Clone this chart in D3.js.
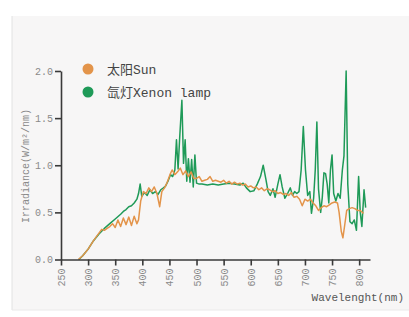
<!DOCTYPE html>
<html>
<head>
<meta charset="utf-8">
<script src="https://cdn.jsdelivr.net/npm/d3@7"></script>
<style>
  body { margin: 0; background: #fff; }
  svg { display: block; }
</style>
</head>
<body>
<div id="chart-area"></div>
<script>
// data (wavelength nm / irradiance W/m2/nm)
let sunWl = [282, 290, 300, 310, 320, 325, 330, 335, 340, 345, 350, 355, 360, 365, 370, 375, 380, 385, 390, 393,
    397, 402, 407, 412, 417, 422, 427, 432, 436, 441, 446, 451, 455, 460, 465, 470, 475, 480, 485, 490,
    495, 500, 505, 510, 515, 520, 525, 530, 535, 540, 545, 550, 555, 560, 565, 570, 575, 580, 585, 590,
    595, 600, 605, 610, 615, 620, 625, 630, 635, 640, 645, 650, 655, 660, 665, 670, 675, 680, 685, 690,
    695, 700, 705, 710, 715, 720, 725, 730, 735, 740, 745, 750, 755, 760, 763, 767, 770, 773, 777, 782,
    787, 792, 797, 802, 808]
let sunVal = [0, 0.04, 0.11, 0.2, 0.28, 0.32, 0.31, 0.33, 0.35, 0.38, 0.34, 0.42, 0.35, 0.44, 0.37, 0.45, 0.36, 0.46, 0.38, 0.42,
    0.62, 0.72, 0.70, 0.76, 0.72, 0.77, 0.70, 0.56, 0.72, 0.76, 0.82, 0.90, 0.95, 0.90, 0.93, 0.97, 0.90, 0.94, 0.88, 0.93,
    0.86, 0.86, 0.88, 0.83, 0.84, 0.85, 0.88, 0.83, 0.84, 0.83, 0.82, 0.84, 0.81, 0.83, 0.80, 0.82, 0.80, 0.81, 0.79, 0.80,
    0.77, 0.78, 0.76, 0.77, 0.74, 0.76, 0.73, 0.75, 0.74, 0.72, 0.73, 0.70, 0.71, 0.69, 0.70, 0.68, 0.71, 0.66, 0.67, 0.64,
    0.57, 0.64, 0.62, 0.64, 0.60, 0.57, 0.52, 0.55, 0.57, 0.56, 0.58, 0.60, 0.61, 0.60, 0.50, 0.30, 0.23, 0.35, 0.52, 0.54,
    0.55, 0.54, 0.52, 0.52, 0.49]

let xenonWl = [283, 290, 300, 310, 320, 330, 340, 350, 360, 365, 370, 375, 380, 385, 390, 393, 396, 399, 404, 409,
    414, 419, 424, 429, 434, 439, 443, 448, 452, 456, 460, 463, 466, 469, 473, 476, 479, 482, 485, 488,
    491, 494, 497, 500, 505, 510, 520, 530, 540, 550, 560, 570, 580, 586, 592, 599, 606, 612, 618, 623,
    628, 632, 636, 641, 645, 650, 654, 658, 663, 668, 673, 677, 681, 685, 689, 693, 697, 701, 705, 709,
    712, 716, 719, 722, 725, 729, 732, 735, 738, 741, 744, 747, 750, 753, 757, 761, 765, 769, 772, 776,
    779, 783, 787, 791, 795, 799, 802, 805, 809, 812]
let xenonVal = [0, 0.04, 0.11, 0.2, 0.27, 0.33, 0.38, 0.43, 0.48, 0.51, 0.53, 0.56, 0.57, 0.60, 0.64, 0.70, 0.80, 0.67, 0.71, 0.68,
    0.74, 0.70, 0.72, 0.69, 0.74, 0.76, 0.78, 0.84, 0.90, 0.88, 0.95, 1.27, 0.96, 1.30, 1.69, 1.02, 1.27, 0.83, 1.07, 0.82,
    1.06, 0.77, 1.11, 0.81, 0.80, 0.80, 0.79, 0.80, 0.79, 0.80, 0.81, 0.80, 0.79, 0.81, 0.76, 0.72, 0.73, 0.80, 0.88, 1.00,
    0.85, 0.72, 0.68, 0.75, 0.66, 0.80, 0.90, 0.77, 0.65, 0.70, 0.76, 0.68, 0.72, 0.70, 0.72, 0.95, 1.41, 0.95, 0.68, 0.72,
    0.49, 0.65, 0.95, 1.46, 0.75, 0.50, 0.66, 0.92, 0.91, 0.80, 0.60, 0.95, 1.11, 0.70, 0.62, 0.70, 0.65, 0.95, 1.10, 2.00,
    0.80, 0.40, 0.38, 0.42, 0.31, 0.88, 0.50, 0.35, 0.74, 0.55]

let xTicks = [250, 300, 350, 400, 450, 500, 550, 600, 650, 700, 750, 800]
let yTicks = [0, 0.5, 1.0, 1.5, 2.0]
let legendNames = ["太阳Sun", "氙灯Xenon lamp"]
let colors = ["#e3944a", "#1f9a58"]

let W = 409, H = 317
let MARGIN = {LEFT: 61, TOP: 71, RIGHT: 39, BOTTOM: 58}
let monoFont = "'Liberation Mono', 'DejaVu Sans Mono', monospace"

let svg = d3.select("#chart-area").append("svg")
    .attr("width", W)
    .attr("height", H)

// grey panel behind the chart
svg.append("rect")
    .attr("x", 12).attr("y", 16)
    .attr("width", W - 12).attr("height", 294)
    .attr("fill", "#f7f6f6")
svg.append("line")
    .attr("x1", 12).attr("x2", 12).attr("y1", 16).attr("y2", 310)
    .attr("stroke", "#e2e2e2").attr("stroke-width", 1)
svg.append("line")
    .attr("x1", 12).attr("x2", W).attr("y1", 310).attr("y2", 310)
    .attr("stroke", "#eaeaea").attr("stroke-width", 1)

let g = svg.append("g")
    .attr("transform", `translate(${MARGIN.LEFT}, ${MARGIN.TOP})`)

let x = d3.scaleLinear().domain([250, 820]).range([0, 309])
let y = d3.scaleLinear().domain([0, 2]).range([188.5, 0])

// lines
let line = d3.line()
    .x(d => x(d[0]))
    .y(d => y(d[1]))

let sunData = sunWl.map((w, i) => [w, sunVal[i]])
let xenonData = xenonWl.map((w, i) => [w, xenonVal[i]])

g.append("path")
    .datum(xenonData)
    .attr("d", line)
    .attr("fill", "none")
    .attr("stroke", colors[1])
    .attr("stroke-width", 1.5)
    .attr("stroke-linejoin", "round")

g.append("path")
    .datum(sunData)
    .attr("d", line)
    .attr("fill", "none")
    .attr("stroke", colors[0])
    .attr("stroke-width", 1.5)
    .attr("stroke-linejoin", "round")

// axes
let xAxisCall = d3.axisBottom(x)
    .tickValues(xTicks)
    .tickSize(6)
    .tickSizeOuter(0)
    .tickFormat(d => d)
let xAxis = g.append("g")
    .attr("class", "x axis")
    .attr("transform", `translate(0, ${y(0)})`)
    .call(xAxisCall)
xAxis.selectAll("text")
    .attr("transform", "rotate(-90)")
    .attr("x", -9)
    .attr("y", 0)
    .attr("dy", "0.35em")
    .attr("text-anchor", "end")

let yAxisCall = d3.axisLeft(y)
    .tickValues(yTicks)
    .tickSize(6)
    .tickSizeOuter(0)
    .tickFormat(d3.format(".1f"))
let yAxis = g.append("g")
    .attr("class", "y axis")
    .call(yAxisCall)
yAxis.selectAll("text").attr("x", -8)

g.selectAll(".axis path, .axis line")
    .attr("stroke", "#3a3a3a")
    .attr("stroke-width", 1.6)
g.selectAll(".axis text")
    .attr("fill", "#8a8a8a")
    .style("font-family", monoFont)
    .style("font-size", "10px")

// axis labels
svg.append("text")
    .attr("x", 404)
    .attr("y", 301)
    .attr("text-anchor", "end")
    .attr("fill", "#555")
    .style("font-family", monoFont)
    .style("font-size", "11px")
    .text("Wavelenght(nm)")

svg.append("text")
    .attr("transform", "translate(29, 166) rotate(-90)")
    .attr("text-anchor", "middle")
    .attr("fill", "#8a8a8a")
    .style("font-family", monoFont)
    .style("font-size", "10px")
    .text("Irradiance(W/m²/nm)")

// legend
let legend = svg.append("g")
    .attr("transform", "translate(88, 69)")
legendNames.forEach((name, i) => {
    legend.append("circle")
        .attr("cx", 0)
        .attr("cy", i * 23)
        .attr("r", 5.5)
        .attr("fill", colors[i])
    legend.append("text")
        .attr("x", 19)
        .attr("y", i * 23)
        .attr("dy", "0.36em")
        .attr("fill", "#444")
        .style("font-family", "'Liberation Mono', 'Noto Sans CJK SC', monospace")
        .style("font-size", "13px")
        .text(name)
})
</script>
</body>
</html>
